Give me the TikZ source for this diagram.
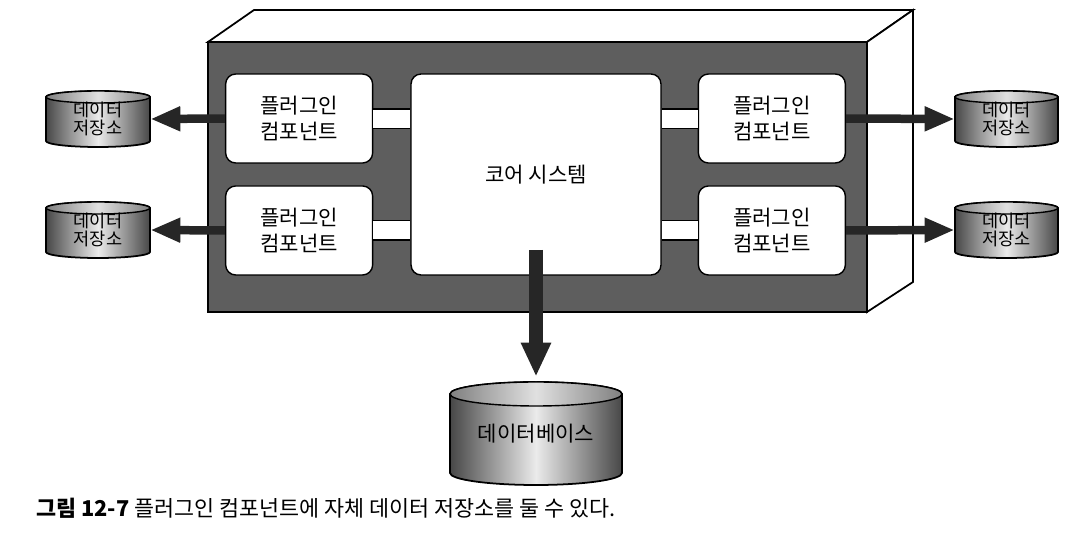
\documentclass[tikz,border=0pt]{standalone}
\usepackage{fontspec}
\setmainfont{Noto Sans CJK KR}
\usepackage{tikz}
\usetikzlibrary{arrows.meta, positioning}

% cylinder: name, cx, cy, half width, half height, lid radius, text
\newcommand{\datastore}[7]{%
  \shade[store body] ({#2-#4},{#3-#5+#6}) -- ({#2-#4},{#3+#5-#6})
    arc (180:0:#4 and #6) -- ({#2+#4},{#3-#5+#6}) arc (0:-180:#4 and #6) -- cycle;
  \shade[store lid] (#2,{#3-#5+#6}) ellipse [x radius=#4, y radius=#6];
  \node[store text, minimum width={0.04cm*#4}, minimum height={0.04cm*#5}] (#1) at (#2,#3) {#7};
}

\begin{document}
\begin{tikzpicture}[x=0.02cm, y=-0.02cm,
    plugin/.style={draw, fill=white, rounded corners=0.2cm, line width=0.8pt,
      minimum width=2.94cm, minimum height=1.78cm, align=center,
      font=\fontsize{12}{14.5}\selectfont},
    bar/.style={line width=0.7pt, double=white, double distance=0.36cm},
    store body/.style={draw, line width=1pt, left color=black!72, right color=black!72, middle color=black!8},
    store lid/.style={draw, line width=0.8pt, left color=black!50, right color=black!50, middle color=black!12},
    store text/.style={inner sep=0pt, align=center, font=\fontsize{10}{10}\selectfont},
    store arrow/.style={-{Triangle[length=0.6cm, width=0.46cm]}, line width=0.17cm, black!85},
    db arrow/.style={-{Triangle[length=0.68cm, width=0.56cm]}, line width=0.27cm, black!85}]
  \useasboundingbox (0,0) rectangle (1092,546);

  % the box
  \filldraw[fill=white, line width=1pt] (208,42) -- (254,10) -- (913,10) -- (867,42) -- cycle;
  \filldraw[fill=white, line width=1pt] (867,42) -- (913,10) -- (913,282) -- (867,312) -- cycle;
  \filldraw[fill=black!63, line width=1pt] (208,42) rectangle (867,312);

  \node[plugin, minimum width=5cm, minimum height=4.02cm] (core) at (536,174.5) {코어 시스템};
  \node[plugin, left=0.74cm of core.north west, anchor=north east]   (pl1) {플러그인\\컴포넌트};
  \node[plugin, left=0.74cm of core.south west, anchor=south east]   (pl2) {플러그인\\컴포넌트};
  \node[plugin, right=0.72cm of core.north east, anchor=north west]  (pr1) {플러그인\\컴포넌트};
  \node[plugin, right=0.72cm of core.south east, anchor=south west]  (pr2) {플러그인\\컴포넌트};

  \draw[bar] (pl1.east) -- (core.west |- pl1.east);
  \draw[bar] (pl2.east) -- (core.west |- pl2.east);
  \draw[bar] (pr1.west) -- (core.east |- pr1.west);
  \draw[bar] (pr2.west) -- (core.east |- pr2.west);

  % data stores
  \datastore{sl1}{98}{119}{52}{28}{6}{데이터\\저장소}
  \datastore{sl2}{98}{230}{52}{28}{6}{데이터\\저장소}
  \datastore{sr1}{1006.5}{119}{51.5}{28}{6}{데이터\\저장소}
  \datastore{sr2}{1006.5}{230}{51.5}{28}{6}{데이터\\저장소}
  \datastore{db}{536}{433.5}{86}{51.5}{12}{\fontsize{12}{14}\selectfont 데이터베이스}

  \draw[store arrow] (pl1.west) -- (sl1.east);
  \draw[store arrow] (pl2.west) -- (sl2.east);
  \draw[store arrow] (pr1.east) -- (sr1.west);
  \draw[store arrow] (pr2.east) -- (sr2.west);

  \coordinate (dbout) at (536,250);
  \draw[db arrow] (dbout) -- ([yshift=0.1cm]db.north);

  \node[anchor=west, inner sep=0pt, font=\fontsize{12.4}{14}\selectfont] (caption) at (36,508)
    {\textbf{그림 12-7} 플러그인 컴포넌트에 자체 데이터 저장소를 둘 수 있다.};
\end{tikzpicture}
\end{document}
